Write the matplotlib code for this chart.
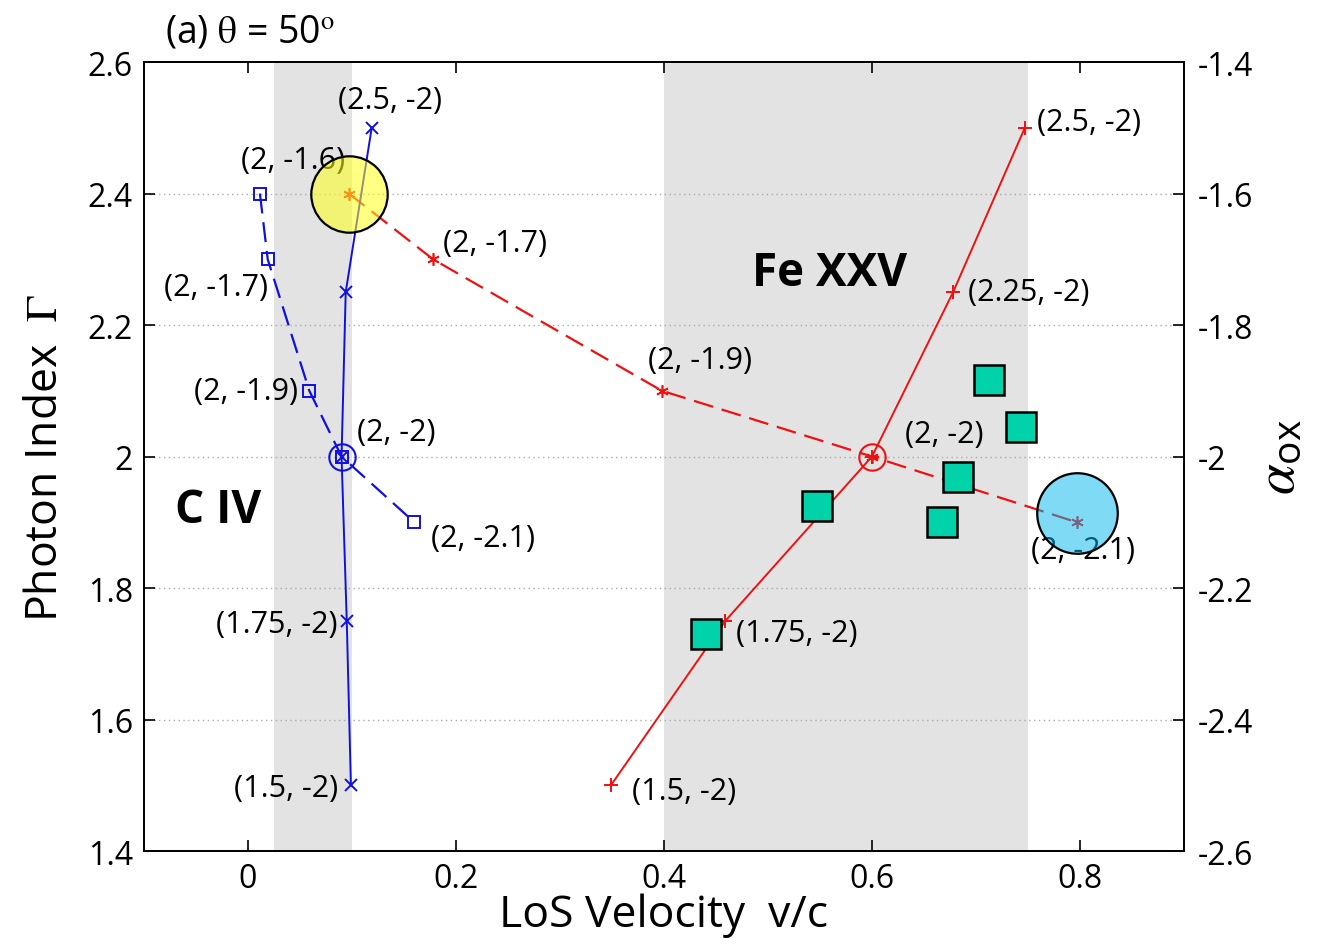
import matplotlib
matplotlib.use("Agg")
import matplotlib.pyplot as plt

plt.rcParams['font.family'] = ['Open Sans', 'DejaVu Sans']
plt.rcParams['mathtext.fontset'] = 'custom'
plt.rcParams['mathtext.rm'] = 'STIXGeneral'
plt.rcParams['mathtext.it'] = 'STIXGeneral:italic'
plt.rcParams['mathtext.sf'] = 'Open Sans'

# Gamma scan at fixed alpha_ox = -2 (left axis)
gam_civ_v = [0.099, 0.095, 0.090, 0.094, 0.119]
gam_fe_v = [0.349, 0.459, 0.600, 0.678, 0.747]
gamma_vals = [1.5, 1.75, 2.0, 2.25, 2.5]

# alpha_ox scan at fixed Gamma = 2 (right axis)
alp_civ_v = [0.0115, 0.019, 0.059, 0.090, 0.160]
alp_fe_v = [0.097, 0.178, 0.398, 0.600, 0.797]
alpha_vals = [-1.6, -1.7, -1.9, -2.0, -2.1]

# observed sources
obs_v = [0.440, 0.547, 0.667, 0.683, 0.713, 0.743]
obs_gamma = [1.730, 1.924, 1.901, 1.969, 2.117, 2.045]

# highlighted models
yellow_v, yellow_gamma = 0.097, 2.40
cyan_v, cyan_gamma = 0.797, 1.914

xticks = [0, 0.2, 0.4, 0.6, 0.8]
xticklabels = ['0', '0.2', '0.4', '0.6', '0.8']
yticks = [1.4, 1.6, 1.8, 2.0, 2.2, 2.4, 2.6]
yticklabels = ['1.4', '1.6', '1.8', '2', '2.2', '2.4', '2.6']
y2ticks = [-2.6, -2.4, -2.2, -2.0, -1.8, -1.6, -1.4]
y2ticklabels = ['-2.6', '-2.4', '-2.2', '-2', '-1.8', '-1.6', '-1.4']

fig = plt.figure(figsize=(13.17, 9.45), dpi=100)
ax2 = fig.add_axes([0.1093, 0.0984, 0.7897, 0.8349])
ax = ax2.twinx()
# left axis is the one drawn on top, the alpha_ox axis sits underneath
ax.yaxis.tick_left()
ax.yaxis.set_label_position('left')
ax2.yaxis.tick_right()
ax2.yaxis.set_label_position('right')

ax.set_xlim(-0.1, 0.9)
ax.set_ylim(1.4, 2.6)
ax2.set_ylim(-2.6, -1.4)

# shaded velocity ranges of C IV and Fe XXV
ax2.axvspan(0.025, 0.1, color='#e3e3e3', lw=0, zorder=0)
ax2.axvspan(0.4, 0.75, color='#e3e3e3', lw=0, zorder=0)
for yt in y2ticks[1:-1]:
    ax2.axhline(yt, color='#aaaaaa', lw=1, ls=(0, (1, 2.5)), zorder=0.5)

# alpha_ox tracks (dashed)
ax2.plot(alp_civ_v, alpha_vals, color='#1010e0', lw=1.6, ls=(0, (9, 4)),
         marker='s', ms=9, mfc='none', mec='#1010e0', mew=1.4, zorder=2)
ax2.plot(alp_fe_v, alpha_vals, color='#f01010', lw=1.6, ls=(0, (9, 4)),
         marker=(6, 2, 0), ms=9, mec='#f01010', mew=1.2, zorder=2)

# Gamma tracks (solid)
ax.plot(gam_civ_v, gamma_vals, color='#1010e0', lw=1.4,
        marker='x', ms=8, mew=1.4, zorder=2)
ax.plot(gam_fe_v, gamma_vals, color='#f01010', lw=1.4,
        marker='+', ms=10, mew=1.4, zorder=2)

# crossing points of the two scans
ax.plot(gam_civ_v[2], gamma_vals[2], 'o', ms=19, mfc='none', mec='#1010e0', mew=1.5, zorder=3)
ax.plot(gam_fe_v[2], gamma_vals[2], 'o', ms=19, mfc='none', mec='#f01010', mew=1.5, zorder=3)

ax.plot(obs_v, obs_gamma, 's', ms=22, mfc='#00d2aa', mec='k', mew=1.8, ls='none', zorder=4)

ax.plot(yellow_v, yellow_gamma, 'o', ms=55, mfc=(1.0, 1.0, 0.1, 0.55), mec='k', mew=1.6, zorder=6)
ax.plot(cyan_v, cyan_gamma, 'o', ms=58, mfc=(0.0, 0.72, 0.93, 0.5), mec='k', mew=1.6, zorder=6)

# point labels: (Gamma, alpha_ox)
lab_kw = dict(textcoords='offset points', fontsize=22, va='center', zorder=5)
civ_gam_offsets = [(-9, -2, 'right'), (-7, -2, 'right'), (11, 18, 'left'), None, (13, 20, 'center')]
fe_gam_offsets = [(15, -4, 'left'), (8, -9, 'left'), (24, 16, 'left'), (11, 0, 'left'), (9, 4, 'left')]
for v, g, off in zip(gam_civ_v, gamma_vals, civ_gam_offsets):
    if off:
        ax.annotate('(%g, -2)' % g, (v, g), xytext=off[:2], ha=off[2], **lab_kw)
for v, g, off in zip(gam_fe_v, gamma_vals, fe_gam_offsets):
    if off:
        ax.annotate('(%g, -2)' % g, (v, g), xytext=off[:2], ha=off[2], **lab_kw)

civ_alp_offsets = [(24, 24, 'center'), (0, -20, 'right'), (-8, 0, 'right'), None, (12, -11, 'left')]
fe_alp_offsets = [None, (7, 12, 'left'), (-10, 22, 'left'), None, (-33, -20, 'left')]
for v, a, off in zip(alp_civ_v, alpha_vals, civ_alp_offsets):
    if off:
        ax2.annotate('(2, %g)' % a, (v, a), xytext=off[:2], ha=off[2], **lab_kw)
for v, a, off in zip(alp_fe_v, alpha_vals, fe_alp_offsets):
    if off:
        ax2.annotate('(2, %g)' % a, (v, a), xytext=off[:2], ha=off[2], **lab_kw)

ax.text(-0.07, 1.92, 'C IV', fontsize=33, fontweight='bold', va='center')
ax.text(0.485, 2.28, 'Fe XXV', fontsize=33, fontweight='bold', va='center')
ax.text(-0.08, 2.647, r'(a) $\mathrm{\theta}$ = 50$^{\mathrm{o}}$', fontsize=27, va='center')

ax.set_xticks(xticks)
ax.set_xticklabels(xticklabels)
ax.set_yticks(yticks)
ax.set_yticklabels(yticklabels)
ax2.set_yticks(y2ticks)
ax2.set_yticklabels(y2ticklabels)

ax.tick_params(axis='x', direction='in', length=8, width=1.2, top=True, labelsize=23, pad=8)
ax.tick_params(axis='y', direction='in', length=8, width=1.2, labelsize=23, pad=8)
ax2.tick_params(axis='x', direction='in', length=8, width=1.2, top=True, labelsize=23, pad=8)
ax2.tick_params(axis='y', direction='in', length=8, width=1.2, labelsize=23, pad=10)
for a in (ax, ax2):
    for s in a.spines.values():
        s.set_linewidth(1.3)

ax2.set_xlabel('LoS Velocity  v/c', fontsize=32, labelpad=-2)
ax.set_ylabel(r'Photon Index  $\mathrm{\Gamma}$', fontsize=32, labelpad=14)
ax2.set_ylabel(r'$\alpha_{\mathsf{ox}}$', fontsize=40, labelpad=-2)

fig.savefig('out.png', dpi=100)
